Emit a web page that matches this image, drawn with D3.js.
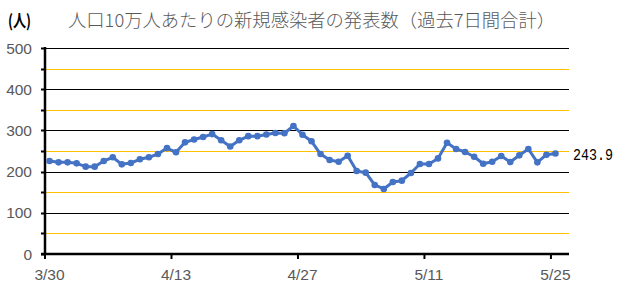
<!DOCTYPE html>
<html><head><meta charset="utf-8">
<script src="https://cdn.jsdelivr.net/npm/d3@7"></script>
<style>body{margin:0;background:#fff}svg{display:block}</style></head>
<body>
<script>
const dates = ["3/30","3/31","4/1","4/2","4/3","4/4","4/5","4/6","4/7","4/8","4/9","4/10","4/11","4/12",
  "4/13","4/14","4/15","4/16","4/17","4/18","4/19","4/20","4/21","4/22","4/23","4/24","4/25","4/26",
  "4/27","4/28","4/29","4/30","5/1","5/2","5/3","5/4","5/5","5/6","5/7","5/8","5/9","5/10",
  "5/11","5/12","5/13","5/14","5/15","5/16","5/17","5/18","5/19","5/20","5/21","5/22","5/23","5/24","5/25"];
const values = [225.7,222.5,222.5,220,212,212,225.7,234.7,217.6,220.9,
  229.8,234.7,242.7,257,246.8,271,278,284,291,276,
  261,276,286,286,290,293.7,293,310.7,289.6,273.5,
  242.7,228,224,238.6,201.5,197.4,167.5,157.8,174.8,178,
  196.6,218.4,218.4,232,270,255,247.6,236,219,224,
  237.8,223.3,239.5,254.9,222.5,241,243.9];
const xTickLabels = ["3/30","4/13","4/27","5/11","5/25"];
const yTickLabels = [0,100,200,300,400,500];
const minorLines = [50,150,250,350,450];
const titleUnit = "(人)";
const titleText = "人口10万人あたりの新規感染者の発表数（過去7日間合計）";
const lastLabel = "243.9";

const W = 631, H = 288;
const svg = d3.select("body").append("svg").attr("width", W).attr("height", H);
const L = 45, R = 569, T = 48, B = 254;
const nSlots = dates.length + 1;
const x = d3.scaleLinear().domain([0, nSlots]).range([L, R]);
const y = d3.scaleLinear().domain([0, 500]).range([B, T]);

// minor (yellow) lines
svg.selectAll(".minor").data(minorLines).join("line")
  .attr("x1", L).attr("x2", R).attr("y1", d => Math.round(y(d)) + 0.5).attr("y2", d => Math.round(y(d)) + 0.5)
  .attr("stroke", "#FFC000").attr("stroke-width", 1);
// major (black) lines
svg.selectAll(".major").data(yTickLabels.filter(d => d > 0)).join("line")
  .attr("x1", L).attr("x2", R).attr("y1", d => Math.round(y(d)) + 0.5).attr("y2", d => Math.round(y(d)) + 0.5)
  .attr("stroke", "#000").attr("stroke-width", 1);

// y axis ticks every 50
const allY = d3.range(0, 501, 50);
svg.selectAll(".yt").data(allY).join("line")
  .attr("x1", L - 4).attr("x2", L).attr("y1", d => Math.round(y(d)) + 0.5).attr("y2", d => Math.round(y(d)) + 0.5)
  .attr("stroke", "#000").attr("stroke-width", 2);
// y labels
svg.selectAll(".yl").data(yTickLabels).join("text")
  .attr("x", 32).attr("y", d => y(d) + 5.5)
  .attr("text-anchor", "end")
  .attr("font-family", "Liberation Sans, Arial, sans-serif").attr("font-size", 15.5)
  .attr("fill", "#595959")
  .text(d => d);

// axes lines
svg.append("line").attr("x1", L).attr("x2", L).attr("y1", T - 1).attr("y2", B + 1)
  .attr("stroke", "#000").attr("stroke-width", 2.5);
svg.append("line").attr("x1", L - 4).attr("x2", R).attr("y1", B).attr("y2", B)
  .attr("stroke", "#000").attr("stroke-width", 2.5);

// x ticks
const tickIdx = xTickLabels.map(l => dates.indexOf(l));
svg.selectAll(".xt").data(tickIdx).join("line")
  .attr("x1", d => x(d)).attr("x2", d => x(d)).attr("y1", B).attr("y2", B + 5)
  .attr("stroke", "#000").attr("stroke-width", 2);
svg.selectAll(".xl").data(tickIdx).join("text")
  .attr("x", d => x(d + 0.5)).attr("y", 280)
  .attr("text-anchor", "middle")
  .attr("font-family", "Liberation Sans, Arial, sans-serif").attr("font-size", 15.5)
  .attr("fill", "#595959")
  .text(d => dates[d]);

// line
const line = d3.line().x((d, i) => x(i + 0.5)).y(d => y(d));
svg.append("path").datum(values).attr("d", line)
  .attr("fill", "none").attr("stroke", "#4472C4").attr("stroke-width", 3).attr("stroke-linejoin", "round");
svg.selectAll(".pt").data(values).join("circle")
  .attr("cx", (d, i) => x(i + 0.5)).attr("cy", d => y(d)).attr("r", 3.3)
  .attr("fill", "#4472C4");

// last value label
svg.append("text").attr("x", 573).attr("y", y(values[values.length - 1]) + 6)
  .attr("font-family", "Liberation Mono, DejaVu Sans Mono, monospace").attr("font-size", 16)
  .attr("textLength", 40).attr("lengthAdjust", "spacingAndGlyphs")
  .attr("fill", "#000").text(lastLabel);

// title
svg.append("text").attr("x", 8).attr("y", 27)
  .attr("font-family", "Noto Sans CJK JP, sans-serif").attr("font-size", 17).attr("font-weight", "bold")
  .attr("textLength", 23).attr("lengthAdjust", "spacingAndGlyphs")
  .attr("fill", "#000").text(titleUnit);
svg.append("text").attr("x", 68).attr("y", 27)
  .attr("font-family", "Noto Sans CJK JP, sans-serif").attr("font-size", 18).attr("font-weight", 300)
  .attr("textLength", 487).attr("lengthAdjust", "spacingAndGlyphs")
  .attr("fill", "#595959").text(titleText);
</script>
</body></html>
